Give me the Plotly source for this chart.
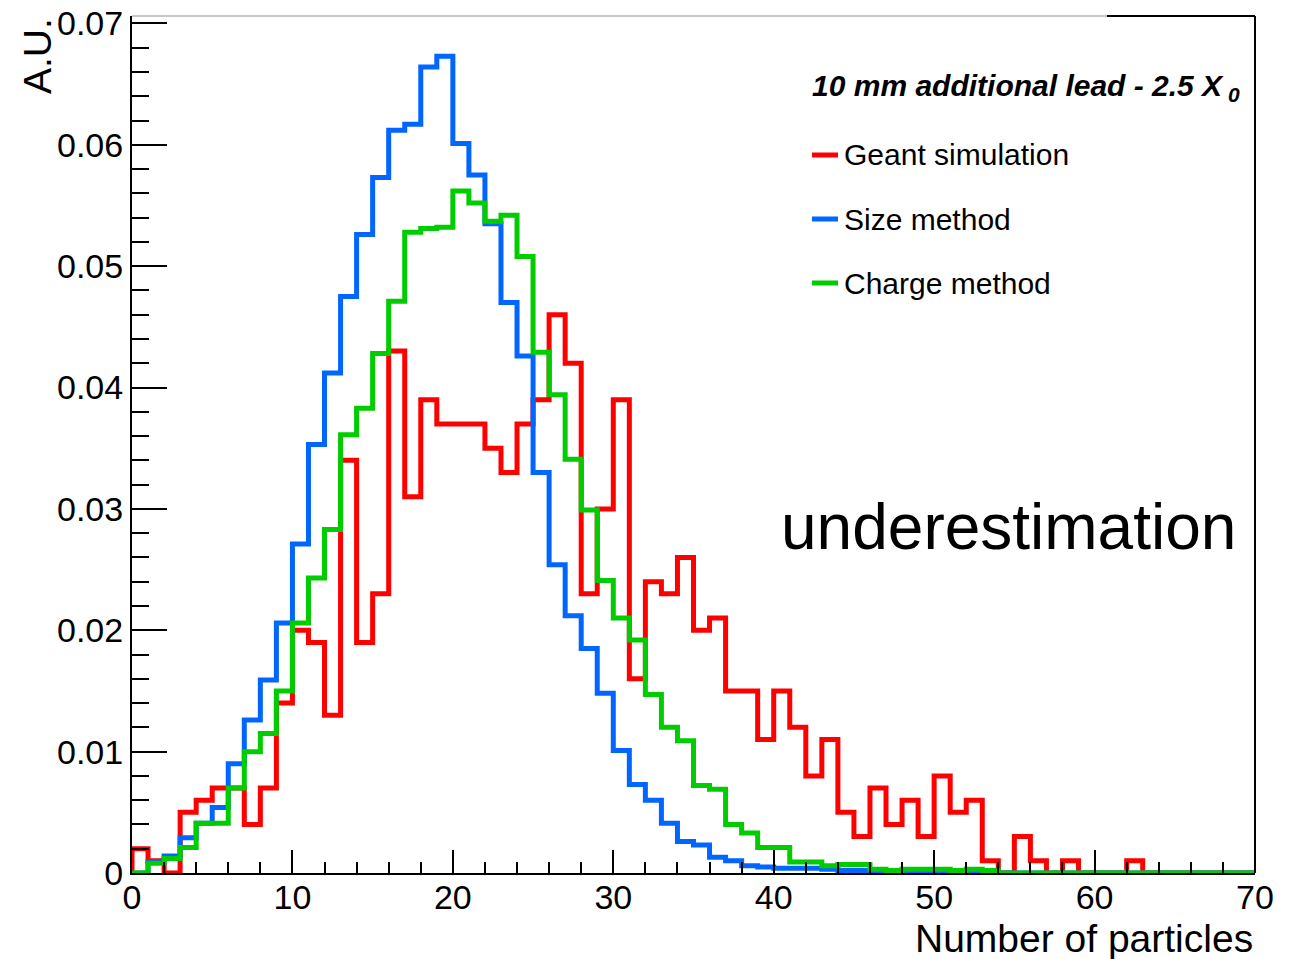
import plotly.graph_objects as go

# ---------------- data (bin contents, bins of width 1 from 0 to 70) ----------------
bin_edges = list(range(0, 71))

geant_simulation = [
    0.0020, 0.0010, 0.0000, 0.0050, 0.0060, 0.0070, 0.0070, 0.0040, 0.0070, 0.0140,
    0.0200, 0.0190, 0.0130, 0.0340, 0.0190, 0.0230, 0.0430, 0.0310, 0.0390, 0.0370,
    0.0370, 0.0370, 0.0350, 0.0330, 0.0370, 0.0390, 0.0460, 0.0420, 0.0230, 0.0300,
    0.0390, 0.0160, 0.0240, 0.0230, 0.0260, 0.0200, 0.0210, 0.0150, 0.0150, 0.0110,
    0.0150, 0.0120, 0.0080, 0.0110, 0.0050, 0.0030, 0.0070, 0.0040, 0.0060, 0.0030,
    0.0080, 0.0050, 0.0060, 0.0010, 0.0000, 0.0030, 0.0010, 0.0000, 0.0010, 0.0000,
    0.0000, 0.0000, 0.0010, 0.0000, 0.0000, 0.0000, 0.0000, 0.0000, 0.0000, 0.0000,
]

size_method = [
    0.0000, 0.0009, 0.0014, 0.0029, 0.0041, 0.0054, 0.0090, 0.0126, 0.0159, 0.0206,
    0.0271, 0.0353, 0.0412, 0.0475, 0.0526, 0.0573, 0.0612, 0.0617, 0.0664, 0.0673,
    0.0601, 0.0575, 0.0535, 0.0470, 0.0426, 0.0330, 0.0254, 0.0212, 0.0185, 0.0148,
    0.0101, 0.0073, 0.0060, 0.0041, 0.0026, 0.0023, 0.0013, 0.0010, 0.0006, 0.0005,
    0.0004, 0.0004, 0.0004, 0.0003, 0.0002, 0.0002, 0.0002, 0.0001, 0.0001, 0.0001,
    0.0001, 0.0001, 0.0001, 0.0000, 0.0000, 0.0000, 0.0000, 0.0000, 0.0000, 0.0000,
    0.0000, 0.0000, 0.0000, 0.0000, 0.0000, 0.0000, 0.0000, 0.0000, 0.0000, 0.0000,
]

charge_method = [
    0.0000, 0.0008, 0.0012, 0.0021, 0.0041, 0.0041, 0.0070, 0.0100, 0.0115, 0.0150,
    0.0206, 0.0243, 0.0283, 0.0361, 0.0383, 0.0428, 0.0471, 0.0528, 0.0531, 0.0532,
    0.0562, 0.0552, 0.0537, 0.0542, 0.0508, 0.0429, 0.0394, 0.0341, 0.0299, 0.0241,
    0.0210, 0.0192, 0.0147, 0.0120, 0.0109, 0.0072, 0.0069, 0.0040, 0.0033, 0.0021,
    0.0021, 0.0009, 0.0009, 0.0006, 0.0007, 0.0007, 0.0003, 0.0002, 0.0003, 0.0003,
    0.0003, 0.0002, 0.0003, 0.0002, 0.0000, 0.0000, 0.0000, 0.0000, 0.0000, 0.0000,
    0.0000, 0.0000, 0.0000, 0.0000, 0.0000, 0.0000, 0.0000, 0.0000, 0.0000, 0.0000,
]

series_names = ["Geant simulation", "Size method", "Charge method"]
series_values = [geant_simulation, size_method, charge_method]
series_colors = ["#ff0000", "#0066ff", "#00cc00"]

x_tick_values = [0, 10, 20, 30, 40, 50, 60, 70]
y_tick_values = [0, 0.01, 0.02, 0.03, 0.04, 0.05, 0.06, 0.07]
y_tick_labels = ["0", "0.01", "0.02", "0.03", "0.04", "0.05", "0.06", "0.07"]

title_text = "10 mm additional lead - 2.5 X"
x_title = "Number of particles"
y_title = "A.U."
note_text = "underestimation"

# ---------------- layout constants ----------------
W, H = 1301, 959
ML, MR, MT, MB = 132, 46, 16, 86
PW, PH = W - ML - MR, H - MT - MB
FONT = "Liberation Sans, Arial, Helvetica, sans-serif"


def px_x(p):
    return (p - ML) / PW


def px_y(p):
    return (H - MB - p) / PH


fig = go.Figure()

for name, vals, col in zip(series_names, series_values, series_colors):
    xs = [bin_edges[0]] + bin_edges[:-1] + [bin_edges[-1]]
    ys = [0] + list(vals) + [0]
    fig.add_trace(go.Scatter(
        x=xs, y=ys, mode="lines", name=name,
        line=dict(color=col, width=5, shape="hv"),
        hoverinfo="skip", showlegend=False,
    ))

axis_common = dict(
    showgrid=False, zeroline=False, showline=True, linecolor="black", linewidth=2,
    ticks="inside", tickcolor="black", tickwidth=2, automargin=False,
    tickfont=dict(family=FONT, size=34, color="black"),
)

fig.update_xaxes(
    range=[0, 70], tickvals=x_tick_values, ticklen=23,
    minor=dict(dtick=2, ticks="inside", ticklen=11, tickwidth=2, tickcolor="black", showgrid=False),
    ticklabelstandoff=-7,
    **axis_common,
)
fig.update_yaxes(
    range=[0, 0.07061], tickvals=y_tick_values, ticktext=y_tick_labels, ticklen=35,
    minor=dict(dtick=0.002, ticks="inside", ticklen=17, tickwidth=2, tickcolor="black", showgrid=False),
    ticklabelstandoff=0,
    **axis_common,
)

shapes = [
    # top frame line (light part and dark part) and right frame line
    dict(type="line", xref="paper", yref="paper", x0=0, x1=px_x(1107), y0=1, y1=1,
         line=dict(color="#c8c8c8", width=2)),
    dict(type="line", xref="paper", yref="paper", x0=px_x(1107), x1=1, y0=1, y1=1,
         line=dict(color="black", width=2)),
    dict(type="line", xref="paper", yref="paper", x0=1, x1=1, y0=0, y1=1,
         line=dict(color="black", width=2)),
]

legend_rows = [155, 219, 283]
for row, col in zip(legend_rows, series_colors):
    shapes.append(dict(type="line", xref="paper", yref="paper",
                       x0=px_x(812), x1=px_x(838), y0=px_y(row), y1=px_y(row),
                       line=dict(color=col, width=5)))

annotations = [
    dict(text="<b><i>" + title_text + "</i></b><sub><b><i> 0</i></b></sub>",
         x=px_x(810), y=px_y(88), xref="paper", yref="paper",
         xanchor="left", yanchor="middle", showarrow=False,
         font=dict(family=FONT, size=30, color="black")),
    dict(text=note_text, x=px_x(1238), y=px_y(527), xref="paper", yref="paper",
         xanchor="right", yanchor="middle", showarrow=False,
         font=dict(family=FONT, size=64, color="black")),
    dict(text=x_title, x=1.0, y=px_y(938), xref="paper", yref="paper",
         xanchor="right", yanchor="middle", showarrow=False,
         font=dict(family=FONT, size=39, color="black")),
    dict(text=y_title, x=px_x(37), y=px_y(16), xref="paper", yref="paper",
         xanchor="center", yanchor="top", showarrow=False, textangle=-90,
         font=dict(family=FONT, size=39, color="black")),
]
for row, name in zip(legend_rows, series_names):
    annotations.append(dict(text=name, x=px_x(842), y=px_y(row), xref="paper", yref="paper",
                            xanchor="left", yanchor="middle", showarrow=False,
                            font=dict(family=FONT, size=30, color="black")))

fig.update_layout(
    width=W, height=H,
    margin=dict(l=ML, r=MR, t=MT, b=MB, pad=0),
    paper_bgcolor="white", plot_bgcolor="white",
    shapes=shapes, annotations=annotations,
    font=dict(family=FONT, color="black"),
)

fig.write_html("out.html")
